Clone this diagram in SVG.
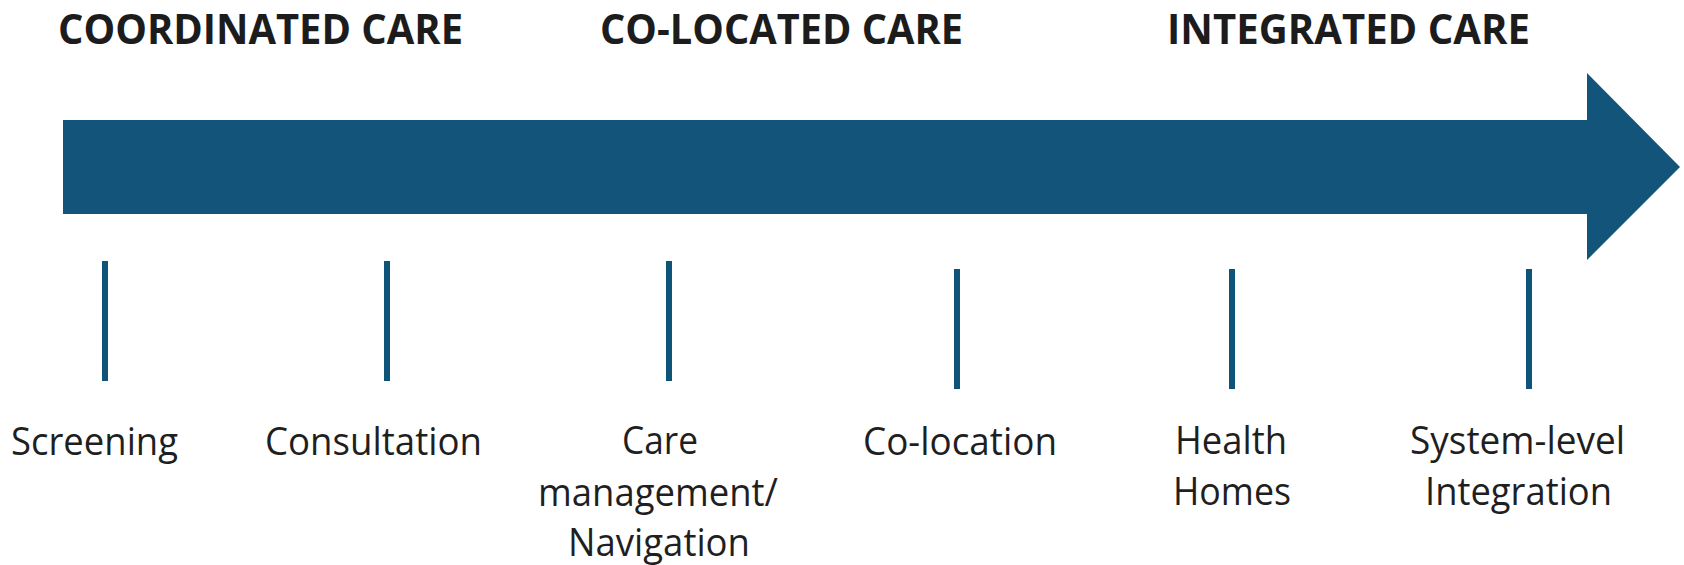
<svg xmlns="http://www.w3.org/2000/svg" width="1684" height="565" viewBox="0 0 1684 565">
  <style>
    .title { font-family: "Open Sans", "Noto Sans", "Liberation Sans", sans-serif; font-weight: 700; font-size: 41px; fill: #1c1c1c; }
    .label { font-family: "Open Sans", "Noto Sans", "Liberation Sans", sans-serif; font-weight: 400; font-size: 38px; fill: #1f1f1f; }
    .tick { fill: #0f5379; }
    .arrow { fill: #13557a; }
  </style>
  <rect width="1684" height="565" fill="#ffffff"/>

  <g id="arrow">
    <polygon class="arrow" points="63,120 1587,120 1587,73 1680,167 1587,260 1587,214 63,214"/>
  </g>

  <g id="title-coordinated">
    <text class="title" x="58" y="44" textLength="405" lengthAdjust="spacingAndGlyphs">COORDINATED CARE</text>
  </g>
  <g id="title-colocated">
    <text class="title" x="600" y="44" textLength="363" lengthAdjust="spacingAndGlyphs">CO-LOCATED CARE</text>
  </g>
  <g id="title-integrated">
    <text class="title" x="1167" y="44" textLength="363" lengthAdjust="spacingAndGlyphs">INTEGRATED CARE</text>
  </g>

  <g id="connectors">
    <rect class="tick" x="102" y="261" width="6" height="120"/>
    <rect class="tick" x="384" y="261" width="6" height="120"/>
    <rect class="tick" x="666" y="261" width="6" height="120"/>
    <rect class="tick" x="954" y="269" width="6" height="120"/>
    <rect class="tick" x="1229" y="269" width="6" height="120"/>
    <rect class="tick" x="1526" y="269" width="6" height="120"/>
  </g>

  <g id="node-screening">
    <text class="label" x="11" y="455" textLength="167" lengthAdjust="spacingAndGlyphs">Screening</text>
  </g>
  <g id="node-consultation">
    <text class="label" x="265" y="455" textLength="217" lengthAdjust="spacingAndGlyphs">Consultation</text>
  </g>
  <g id="node-care-management">
    <text class="label" x="622" y="454" textLength="76" lengthAdjust="spacingAndGlyphs">Care</text>
    <text class="label" x="538" y="506" textLength="240" lengthAdjust="spacingAndGlyphs">management/</text>
    <text class="label" x="568" y="556" textLength="182" lengthAdjust="spacingAndGlyphs">Navigation</text>
  </g>
  <g id="node-colocation">
    <text class="label" x="863" y="455" textLength="194" lengthAdjust="spacingAndGlyphs">Co-location</text>
  </g>
  <g id="node-health-homes">
    <text class="label" x="1175" y="454" textLength="112" lengthAdjust="spacingAndGlyphs">Health</text>
    <text class="label" x="1173" y="505" textLength="118" lengthAdjust="spacingAndGlyphs">Homes</text>
  </g>
  <g id="node-system-integration">
    <text class="label" x="1410" y="454" textLength="215" lengthAdjust="spacingAndGlyphs">System-level</text>
    <text class="label" x="1425" y="505" textLength="187" lengthAdjust="spacingAndGlyphs">Integration</text>
  </g>
</svg>
